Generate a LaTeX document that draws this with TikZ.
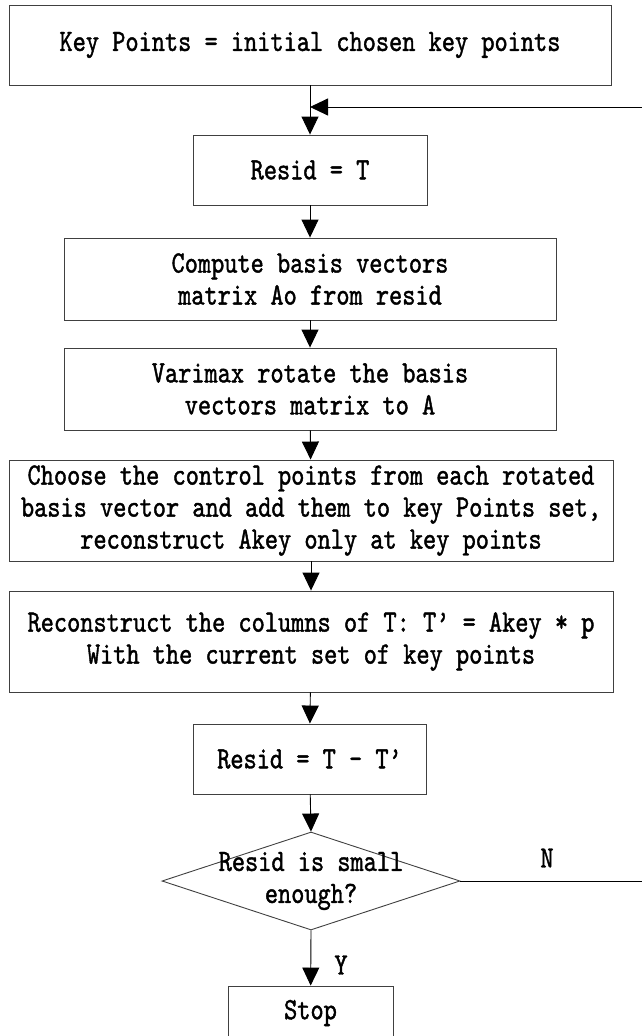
\documentclass[tikz,border=0pt]{standalone}
\usepackage{fontspec}
\usetikzlibrary{arrows.meta, shapes.geometric}
\newfontfamily\flowfont{lmmono10-regular.otf}[FakeStretch=0.81, FakeBold=1.3]

\tikzset{
  box/.style={draw=black!75, line width=0.9pt, rectangle, inner sep=0pt,
    align=center, font=\flowfont\fontsize{31pt}{32pt}\selectfont},
  flow/.style={line width=0.9pt, -{Triangle[length=18pt, width=17pt]}},
  lbl/.style={font=\flowfont\fontsize{31pt}{32pt}\selectfont}
}

\begin{document}
\begin{tikzpicture}[x=1pt, y=-1pt]
\useasboundingbox (0,0) rectangle (642,1036);

\node (init) at (310,45) [box, minimum width=602, minimum height=80] {Key Points = initial chosen key points};
\node (resid) at (310,170) [box, minimum width=234, minimum height=70] {Resid = T};
\node (basis) at (310,279) [box, minimum width=492, minimum height=82] {Compute basis vectors\\matrix Ao from resid};
\node (varimax) at (310,389) [box, minimum width=492, minimum height=82] {Varimax rotate the basis\\vectors matrix to A};
\node (choose) at (311,510.5) [box, minimum width=604, minimum height=101] {Choose the control points from each rotated\\basis vector and add them to key Points set,\\reconstruct Akey only at key points};
\node (recon) at (311,641.5) [box, minimum width=604, minimum height=101] {Reconstruct the columns of T: T’ = Akey * p\\With the current set of key points};
\node (diff) at (309.5,759) [box, minimum width=233, minimum height=70] {Resid = T – T’};

\node (check) at (311,881) [diamond, draw=black!75, line width=0.9pt, inner sep=0pt,
  minimum width=298, minimum height=98] {};
\node (checktext) at (check) [lbl, align=center] {Resid is small\\enough?};

\node (stop) at (310.5,1013) [box, minimum width=165, minimum height=54] {Stop};

\node (no) at (547,858) [lbl] {N};
\node (yes) at (341,965) [lbl] {Y};

\coordinate (join) at (310,107);
\coordinate (far) at (660,881);

\draw[flow] (init) -- (resid);
\draw[flow] (resid) -- (basis);
\draw[flow] (basis) -- (varimax);
\draw[flow] (varimax) -- (choose);
\draw[flow] (choose) -- (recon);
\draw[flow] (recon) -- (diff);
\draw[flow] (diff) -- (check.north);
\draw[flow] (check.south) -- (stop);
\draw[flow] (check.east) -- (far) |- (join);
\end{tikzpicture}
\end{document}
